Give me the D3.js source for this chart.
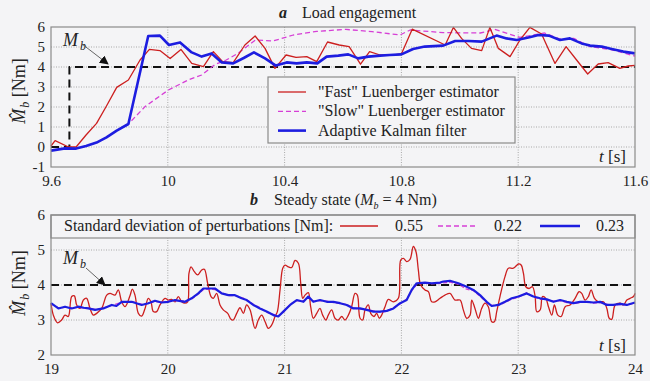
<!DOCTYPE html>
<html><head><meta charset="utf-8">
<script src="https://cdn.jsdelivr.net/npm/d3@7/dist/d3.min.js"></script>
<style>
body{margin:0;background:#f4f4f6;}
svg{display:block;}
</style></head><body>
<svg id="c" width="650" height="381"></svg>
<script>
// ---------- Panel a : load engagement ----------
const topXTicks = [9.6, 10, 10.4, 10.8, 11.2, 11.6];
const topXLabels = ["9.6", "10", "10.4", "10.8", "11.2", "11.6"];
const topYTicks = [-1, 0, 1, 2, 3, 4, 5, 6];
const topMb = [[9.6, 0], [9.663, 0], [9.663, 4], [11.6, 4]];
const topFast = [[9.6,0.05],[9.614,0.32],[9.66,0.0],[9.686,0.0],[9.72,0.6],[9.756,1.18],[9.79,2.05],[9.825,2.98],[9.865,3.35],[9.905,4.35],[9.937,4.88],[9.973,4.82],[10.008,4.42],[10.045,4.88],[10.082,4.18],[10.122,4.02],[10.156,4.77],[10.188,4.27],[10.224,4.22],[10.264,5.1],[10.299,5.55],[10.333,4.93],[10.367,3.93],[10.405,4.6],[10.439,4.48],[10.476,4.52],[10.51,4.27],[10.547,5.25],[10.587,5.1],[10.621,5.02],[10.66,4.14],[10.691,4.77],[10.727,4.6],[10.76,4.58],[10.8,4.65],[10.837,5.89],[10.95,5.1],[10.978,5.98],[11.006,5.43],[11.04,4.93],[11.075,4.82],[11.103,5.98],[11.132,4.93],[11.172,4.52],[11.206,5.35],[11.24,5.98],[11.28,5.65],[11.326,4.18],[11.364,5.02],[11.4,4.35],[11.438,3.65],[11.474,4.15],[11.508,4.22],[11.548,3.93],[11.577,4.05],[11.6,4.08]];
const topSlow = [[9.6,-0.18],[9.648,-0.07],[9.686,-0.08],[9.72,0.05],[9.756,0.22],[9.79,0.48],[9.825,0.82],[9.865,1.15],[9.922,2.02],[10.002,2.85],[10.07,3.35],[10.116,3.6],[10.162,4.13],[10.2,4.35],[10.24,4.68],[10.3,5.35],[10.36,5.3],[10.43,5.6],[10.51,5.78],[10.61,5.88],[10.7,5.77],[10.795,5.6],[10.83,5.85],[10.943,5.72],[11.07,5.7],[11.12,5.88],[11.206,5.48],[11.29,5.7],[11.343,5.4],[11.39,5.43],[11.446,5.02],[11.514,4.88],[11.6,4.55]];
const topKalman = [[9.6,-0.18],[9.648,-0.07],[9.686,-0.08],[9.72,0.05],[9.756,0.22],[9.79,0.48],[9.825,0.82],[9.865,1.15],[9.933,5.55],[9.973,5.57],[10.004,5.1],[10.042,5.23],[10.082,4.73],[10.116,4.52],[10.15,4.68],[10.185,4.23],[10.224,4.18],[10.26,4.45],[10.295,4.73],[10.333,4.43],[10.37,4.07],[10.407,4.23],[10.441,4.18],[10.476,4.23],[10.512,4.18],[10.544,4.52],[10.584,4.57],[10.618,4.63],[10.652,4.43],[10.687,4.52],[10.727,4.57],[10.76,4.6],[10.8,4.63],[10.84,4.9],[10.88,5.02],[10.943,5.07],[10.984,5.3],[11.03,5.3],[11.075,5.27],[11.126,5.57],[11.16,5.43],[11.195,5.35],[11.235,5.47],[11.27,5.6],[11.305,5.57],[11.343,5.35],[11.377,5.43],[11.417,5.18],[11.446,5.07],[11.486,5.02],[11.52,4.9],[11.56,4.77],[11.6,4.68]];
const topLegend = ["\"Fast\" Luenberger estimator", "\"Slow\" Luenberger estimator", "Adaptive Kalman filter"];

// ---------- Panel b : steady state ----------
const botXTicks = [19, 20, 21, 22, 23, 24];
const botYTicks = [2, 3, 4, 5, 6];
const botMb = [[19, 4], [24, 4]];
const botFast = [[19.0,3.48],[19.02,3.14],[19.057,2.92],[19.091,3.0],[19.12,3.14],[19.148,3.1],[19.177,3.67],[19.2,3.69],[19.22,3.43],[19.248,3.33],[19.277,3.57],[19.305,3.62],[19.334,3.33],[19.362,3.14],[19.391,3.19],[19.434,3.33],[19.477,3.71],[19.505,3.76],[19.548,3.71],[19.576,3.86],[19.605,3.52],[19.634,3.38],[19.676,3.69],[19.696,3.88],[19.719,3.71],[19.748,3.19],[19.776,3.11],[19.805,3.33],[19.833,3.62],[19.856,3.52],[19.876,3.24],[19.905,3.24],[19.933,3.43],[19.976,3.62],[20.005,3.57],[20.033,3.59],[20.062,3.52],[20.09,3.67],[20.119,3.52],[20.147,3.48],[20.17,3.52],[20.181,4.33],[20.199,4.52],[20.227,4.38],[20.256,4.29],[20.29,4.43],[20.313,4.45],[20.341,4.05],[20.37,3.67],[20.39,3.62],[20.418,3.76],[20.447,3.43],[20.475,3.29],[20.513,3.19],[20.541,3.02],[20.561,3.0],[20.59,3.19],[20.618,3.35],[20.647,3.19],[20.675,3.43],[20.704,3.29],[20.747,2.76],[20.775,3.0],[20.804,3.14],[20.833,2.95],[20.861,2.76],[20.89,2.86],[20.918,3.1],[20.938,3.24],[20.961,3.86],[20.984,4.48],[21.004,4.57],[21.032,4.52],[21.061,4.5],[21.089,4.7],[21.118,4.62],[21.138,4.05],[21.155,3.62],[21.175,3.71],[21.203,3.78],[21.223,3.38],[21.246,3.05],[21.275,3.19],[21.303,3.33],[21.326,3.14],[21.354,3.0],[21.374,3.14],[21.403,3.29],[21.431,3.05],[21.46,3.0],[21.489,3.1],[21.517,3.0],[21.546,3.14],[21.574,3.38],[21.603,3.76],[21.623,3.71],[21.646,3.05],[21.668,3.0],[21.689,3.29],[21.717,3.43],[21.737,3.19],[21.765,3.1],[21.788,3.19],[21.811,3.05],[21.831,3.14],[21.86,3.38],[21.888,3.59],[21.931,3.52],[21.974,3.62],[21.994,4.71],[22.017,4.76],[22.045,4.67],[22.074,4.73],[22.102,5.1],[22.125,4.95],[22.145,4.43],[22.165,4.0],[22.202,3.86],[22.231,3.81],[22.259,3.52],[22.288,3.52],[22.331,3.62],[22.373,3.71],[22.416,3.76],[22.459,3.57],[22.502,3.57],[22.53,3.29],[22.559,3.05],[22.588,3.14],[22.602,3.57],[22.63,3.33],[22.659,3.05],[22.687,3.33],[22.716,3.48],[22.744,3.38],[22.773,2.95],[22.796,2.95],[22.816,3.24],[22.844,3.67],[22.887,4.24],[22.916,4.48],[22.959,4.48],[23.002,4.6],[23.025,4.57],[23.045,4.33],[23.065,3.95],[23.093,3.9],[23.122,3.95],[23.145,3.67],[23.159,3.24],[23.188,3.29],[23.208,3.67],[23.236,3.62],[23.259,3.38],[23.288,3.14],[23.31,3.43],[23.339,3.14],[23.368,3.1],[23.402,3.38],[23.444,3.43],[23.487,3.62],[23.522,3.81],[23.544,3.76],[23.573,3.57],[23.601,3.67],[23.624,3.86],[23.653,3.62],[23.687,3.52],[23.73,3.52],[23.759,3.33],[23.779,3.05],[23.801,3.02],[23.83,3.43],[23.873,3.48],[23.901,3.43],[23.93,3.57],[23.958,3.62],[23.987,3.67],[24.0,3.76]];
const botKalman = [[19.0,3.48],[19.063,3.33],[19.12,3.38],[19.177,3.33],[19.234,3.38],[19.28,3.35],[19.32,3.33],[19.377,3.29],[19.448,3.33],[19.519,3.43],[19.56,3.4],[19.605,3.52],[19.691,3.52],[19.776,3.43],[19.833,3.48],[19.89,3.55],[19.947,3.5],[20.005,3.52],[20.062,3.57],[20.147,3.52],[20.204,3.62],[20.261,3.76],[20.304,3.9],[20.361,3.9],[20.404,3.9],[20.461,3.76],[20.518,3.71],[20.575,3.71],[20.632,3.62],[20.675,3.57],[20.732,3.43],[20.789,3.33],[20.846,3.24],[20.904,3.14],[20.946,3.1],[20.989,3.24],[21.047,3.43],[21.104,3.57],[21.161,3.52],[21.203,3.67],[21.246,3.52],[21.303,3.57],[21.361,3.52],[21.418,3.52],[21.475,3.48],[21.532,3.43],[21.589,3.33],[21.646,3.33],[21.703,3.29],[21.76,3.24],[21.817,3.24],[21.875,3.26],[21.932,3.33],[21.989,3.48],[22.045,3.57],[22.088,3.86],[22.131,4.05],[22.202,4.07],[22.259,4.05],[22.331,4.07],[22.359,4.1],[22.416,4.12],[22.488,4.05],[22.559,3.95],[22.616,3.86],[22.673,3.71],[22.73,3.52],[22.773,3.4],[22.83,3.43],[22.887,3.52],[22.945,3.62],[23.002,3.67],[23.073,3.76],[23.13,3.67],[23.188,3.62],[23.245,3.59],[23.302,3.52],[23.359,3.57],[23.416,3.52],[23.473,3.48],[23.53,3.52],[23.587,3.52],[23.644,3.5],[23.701,3.52],[23.758,3.43],[23.815,3.43],[23.873,3.46],[23.93,3.43],[24.0,3.5]];
const botSlow = [[19.0,3.46],[19.063,3.35],[19.12,3.36],[19.177,3.35],[19.234,3.36],[19.32,3.34],[19.377,3.3],[19.448,3.34],[19.519,3.42],[19.605,3.5],[19.691,3.53],[19.776,3.45],[19.833,3.47],[19.89,3.53],[19.947,3.5],[20.005,3.54],[20.062,3.56],[20.147,3.54],[20.204,3.6],[20.261,3.74],[20.304,3.87],[20.361,3.88],[20.404,3.87],[20.461,3.78],[20.518,3.7],[20.575,3.7],[20.632,3.64],[20.675,3.58],[20.732,3.45],[20.789,3.35],[20.846,3.22],[20.904,3.16],[20.946,3.12],[20.989,3.22],[21.047,3.45],[21.104,3.55],[21.161,3.55],[21.203,3.64],[21.246,3.54],[21.303,3.55],[21.361,3.54],[21.418,3.5],[21.475,3.47],[21.532,3.44],[21.589,3.35],[21.646,3.31],[21.703,3.3],[21.76,3.26],[21.817,3.22],[21.875,3.25],[21.932,3.35],[21.989,3.46],[22.045,3.6],[22.088,3.84],[22.131,4.02],[22.202,4.05],[22.259,4.03],[22.331,4.05],[22.416,4.08],[22.488,4.02],[22.559,3.88],[22.616,3.84],[22.673,3.68],[22.73,3.5],[22.773,3.42],[22.83,3.42],[22.887,3.5],[22.945,3.6],[23.002,3.65],[23.073,3.78],[23.13,3.66],[23.188,3.6],[23.245,3.58],[23.302,3.54],[23.359,3.55],[23.416,3.5],[23.473,3.47],[23.53,3.5],[23.587,3.52],[23.644,3.48],[23.701,3.5],[23.758,3.45],[23.815,3.42],[23.873,3.44],[23.93,3.44],[24.0,3.48]];
const botLegendTitle = "Standard deviation of perturbations [Nm]:";
const botLegendValues = ["0.55", "0.22", "0.23"];

// ---------- drawing ----------
const svg = d3.select("#c");
const TICKF = 15, TXT = 16;
const SERIF = "'Liberation Serif', 'Times New Roman', Tinos, Times";
const colFast = "#cc1f1f", colSlow = "#d63fd6", colKal = "#1d1de0", bg = "#f4f4f6";
const frameCol = "#8a8a8a", gridCol = "#a8a8a8";

function panel(cfg) {
  const x = d3.scaleLinear().domain(cfg.xd).range([51, 635]);
  const y = d3.scaleLinear().domain(cfg.yd).range([cfg.bottom, cfg.top]);
  const g = svg.append("g");
  g.append("g").selectAll("line").data(cfg.xTicks.slice(1, -1)).join("line")
    .attr("x1", d => x(d)).attr("x2", d => x(d)).attr("y1", cfg.top).attr("y2", cfg.bottom)
    .attr("stroke", gridCol).attr("stroke-width", 1).attr("stroke-dasharray", "1,1.5");
  g.append("g").selectAll("line").data(cfg.yTicks.slice(1, -1)).join("line")
    .attr("x1", 51).attr("x2", 635).attr("y1", d => y(d)).attr("y2", d => y(d))
    .attr("stroke", gridCol).attr("stroke-width", 1).attr("stroke-dasharray", "1,1.5");
  const ax = g.append("g").attr("transform", `translate(0,${cfg.bottom})`)
    .call(d3.axisBottom(x).tickValues(cfg.xTicks).tickFormat((d, i) => cfg.xLabels[i]).tickSize(0).tickPadding(8));
  const ay = g.append("g").attr("transform", "translate(51,0)")
    .call(d3.axisLeft(y).tickValues(cfg.yTicks).tickFormat(d3.format("d")).tickSize(0).tickPadding(6));
  [ax, ay].forEach(a => {
    a.attr("font-family", null).attr("font-size", null);
    a.select(".domain").remove();
    a.selectAll("text").attr("font-size", TICKF).attr("fill", "#222");
  });
  ay.selectAll("text").text(d => d < 0 ? "-" + Math.abs(d) : d);
  return {x, y, g};
}

function drawLine(P, data, color, width, dash, curve) {
  const line = d3.line().x(d => P.x(d[0])).y(d => P.y(d[1])).curve(curve || d3.curveLinear);
  P.g.append("path").datum(data).attr("d", line).attr("fill", "none")
    .attr("stroke", color).attr("stroke-width", width)
    .attr("stroke-linejoin", "round")
    .attr("stroke-dasharray", dash || null);
}

function frame(P, top, bottom) {
  P.g.append("rect").attr("x", 51).attr("y", top).attr("width", 584).attr("height", bottom - top)
    .attr("fill", "none").attr("stroke", frameCol).attr("stroke-width", 1.2);
}

function tLabel(P, yb) {
  const t = P.g.append("text").attr("x", 599).attr("y", yb).attr("font-size", TXT + 1).attr("fill", "#222");
  t.append("tspan").attr("font-style", "italic").text("t");
  t.append("tspan").text(" [s]");
}

function mbLabel(P, x0, yb, ax1, ay1, ax2, ay2) {
  const t = P.g.append("text").attr("x", x0).attr("y", yb).attr("font-size", TXT + 2).attr("fill", "#222");
  t.append("tspan").attr("font-style", "italic").text("M");
  t.append("tspan").attr("font-style", "italic").attr("font-size", 12).attr("dy", 4).attr("dx", 2).text("b");
  P.g.append("line").attr("x1", ax1).attr("y1", ay1).attr("x2", ax2).attr("y2", ay2)
    .attr("stroke", "#555").attr("stroke-width", 0.9).attr("marker-end", "url(#arr)");
}

function yLabel(cx, cy) {
  const t = svg.append("text").attr("transform", `translate(${cx},${cy}) rotate(-90)`)
    .attr("text-anchor", "middle").attr("font-size", 18).attr("fill", "#222");
  t.append("tspan").attr("font-style", "italic").text("M\u0302");
  t.append("tspan").attr("font-style", "italic").attr("font-size", 12).attr("dy", 4).attr("dx", 1).text("b");
  t.append("tspan").attr("dy", -4).text(" [Nm]");
}

svg.append("defs").append("marker").attr("id", "arr").attr("viewBox", "0 0 10 10")
  .attr("refX", 9).attr("refY", 5).attr("markerWidth", 9).attr("markerHeight", 9)
  .attr("markerUnits", "userSpaceOnUse").attr("orient", "auto")
  .append("path").attr("d", "M0,0 L10,5 L0,10 z").attr("fill", "#111");

// ---- Panel a
const A = panel({xd: [9.6, 11.6], yd: [-1, 6], top: 27, bottom: 167,
  xTicks: topXTicks, xLabels: topXLabels, yTicks: topYTicks});
drawLine(A, topMb, "#111", 2, "8,5");
drawLine(A, topSlow, colSlow, 1.3, "5,3");
drawLine(A, topFast, colFast, 1.3);
drawLine(A, topKalman, colKal, 2.6);
frame(A, 27, 167);
tLabel(A, 162);
mbLabel(A, 63, 46, 82, 44, 108, 64);
const LA = A.g.append("g");
LA.append("rect").attr("x", 268).attr("y", 77).attr("width", 247).attr("height", 66)
  .attr("fill", bg).attr("stroke", frameCol).attr("stroke-width", 1.2);
const legStyles = [[colFast, 1.3, null], [colSlow, 1.3, "5,3"], [colKal, 2.6, null]];
topLegend.forEach((txt, i) => {
  const yy = 92 + i * 19.3;
  LA.append("line").attr("x1", 278).attr("x2", 306).attr("y1", yy).attr("y2", yy)
    .attr("stroke", legStyles[i][0]).attr("stroke-width", legStyles[i][1]).attr("stroke-dasharray", legStyles[i][2]);
  LA.append("text").attr("x", 318).attr("y", yy + 5).attr("font-size", TXT).attr("fill", "#222").text(txt);
});
const TA = svg.append("text").attr("x", 279).attr("y", 18).attr("font-size", TXT).attr("fill", "#222");
TA.append("tspan").attr("font-weight", "bold").attr("font-style", "italic").text("a");
TA.append("tspan").attr("x", 302).text("Load engagement");
yLabel(25, 91);

// ---- Panel b
const B = panel({xd: [19, 24], yd: [2, 6], top: 215, bottom: 355,
  xTicks: botXTicks, xLabels: botXTicks.map(String), yTicks: botYTicks});
drawLine(B, botMb, "#111", 2, "8,5");
drawLine(B, botFast, colFast, 1.3, null, d3.curveCatmullRom.alpha(0.5));
drawLine(B, botSlow, colSlow, 1.3, "4,2");
drawLine(B, botKalman, colKal, 2.2);
const LB = B.g.append("g");
LB.append("rect").attr("x", 51).attr("y", 215).attr("width", 584).attr("height", 23)
  .attr("fill", bg).attr("stroke", frameCol).attr("stroke-width", 1.2);
LB.append("text").attr("x", 64).attr("y", 231).attr("font-size", TXT).attr("fill", "#222").text(botLegendTitle);
const legXs = [[340, 378, 395], [438, 478, 494], [540, 580, 596]];
botLegendValues.forEach((v, i) => {
  LB.append("line").attr("x1", legXs[i][0]).attr("x2", legXs[i][1]).attr("y1", 226).attr("y2", 226)
    .attr("stroke", legStyles[i][0]).attr("stroke-width", legStyles[i][1]).attr("stroke-dasharray", legStyles[i][2]);
  LB.append("text").attr("x", legXs[i][2]).attr("y", 231).attr("font-size", TXT).attr("fill", "#222").text(v);
});
frame(B, 215, 355);
tLabel(B, 351);
mbLabel(B, 63, 264, 86, 268, 105, 285);
const TB = svg.append("text").attr("x", 250).attr("y", 205).attr("font-size", TXT).attr("fill", "#222");
TB.append("tspan").attr("font-weight", "bold").attr("font-style", "italic").text("b");
TB.append("tspan").attr("x", 274).text("Steady state  (");
TB.append("tspan").attr("font-style", "italic").text("M");
TB.append("tspan").attr("font-style", "italic").attr("font-size", 10).attr("dy", 4).text("b");
TB.append("tspan").attr("dy", -4).text(" = 4 Nm)");
yLabel(25, 283);

svg.selectAll("text").style("font-family", SERIF);
</script>
</body></html>
